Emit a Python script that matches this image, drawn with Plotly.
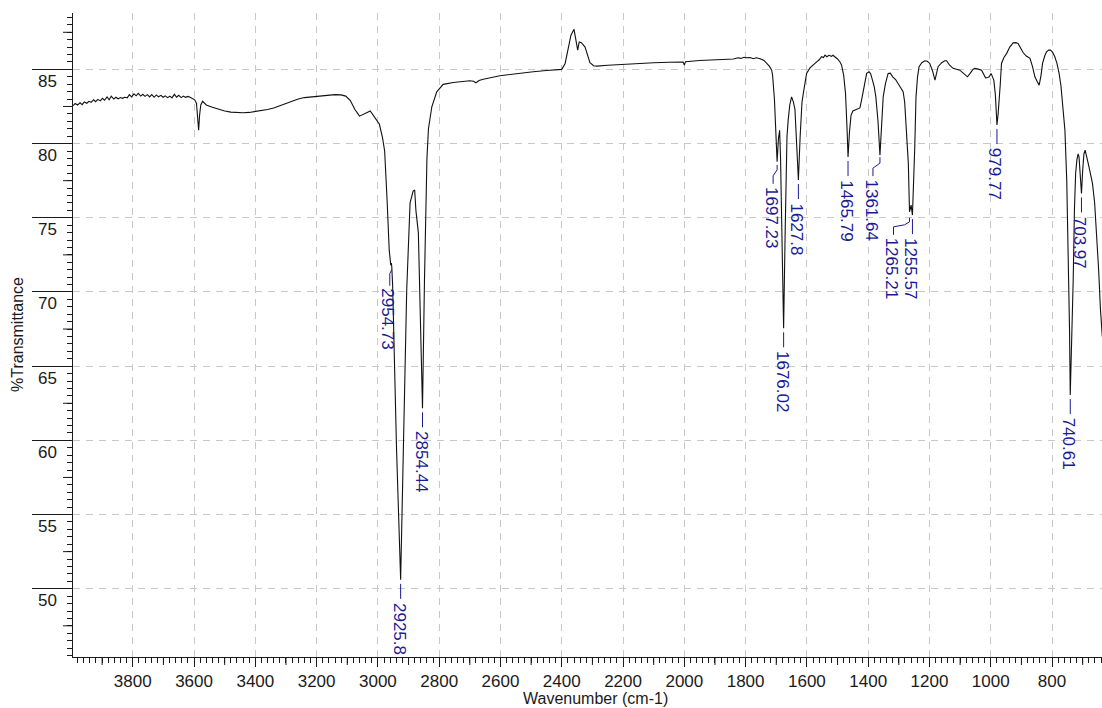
import numpy as np
import plotly.graph_objects as go

# ---------------- data ----------------
wavenumber = [
    3995, 3988, 3980, 3972, 3965, 3958, 3950, 3943, 3936, 3928, 3921, 3914, 3906, 3899, 3892,
    3884, 3877, 3870, 3862, 3855, 3848, 3840, 3833, 3826, 3818, 3811, 3804, 3796, 3789, 3782,
    3774, 3767, 3760, 3752, 3745, 3738, 3730, 3723, 3716, 3708, 3701, 3694, 3686, 3679, 3672,
    3664, 3657, 3650, 3642, 3635, 3628, 3620, 3613, 3605, 3598, 3592, 3588, 3585, 3582, 3578,
    3572, 3566, 3560, 3540, 3520, 3500, 3480, 3460, 3440, 3420, 3400, 3380, 3360, 3340, 3320,
    3300, 3280, 3260, 3240, 3220, 3200, 3180, 3160, 3140, 3120, 3105, 3090, 3075, 3060, 3048,
    3035, 3025, 3015, 3005, 2995, 2985, 2978, 2970, 2963, 2958, 2956, 2954.73, 2952, 2939, 2925.8,
    2917, 2906, 2895, 2885, 2880, 2876, 2868, 2854.44, 2848, 2840, 2835, 2824, 2808, 2787, 2754,
    2720, 2700, 2688, 2680, 2670, 2656, 2602, 2550, 2493, 2450, 2400, 2389, 2380, 2370, 2360,
    2354, 2348, 2343, 2336, 2324, 2316, 2308, 2296, 2286, 2250, 2200, 2150, 2100, 2050, 2010,
    2004, 2000, 1996, 1950, 1900, 1860, 1840, 1825, 1815, 1805, 1797, 1785, 1775, 1765, 1753,
    1740, 1731, 1722, 1715, 1712, 1706, 1701, 1697.23, 1693, 1689, 1686, 1680, 1676.02, 1671, 1665,
    1661, 1656, 1650, 1644, 1639, 1634, 1627.8, 1622, 1616, 1610, 1601, 1590, 1578, 1568, 1560,
    1552, 1546, 1541, 1535, 1528, 1520, 1515, 1509, 1500, 1492, 1487, 1480, 1474, 1469, 1465.79,
    1461, 1456, 1450, 1440, 1432, 1427, 1421, 1416, 1410, 1405, 1397, 1392, 1386, 1380, 1375,
    1368, 1361.64, 1356, 1351, 1344, 1335, 1328, 1320, 1310, 1302, 1294, 1286, 1281, 1277, 1272,
    1269, 1265.21, 1260, 1255.57, 1251, 1248, 1244, 1239, 1234, 1225, 1215, 1207, 1199, 1190, 1182,
    1177, 1172, 1160, 1150, 1144, 1135, 1123, 1112, 1101, 1090, 1076, 1065, 1058, 1052, 1045,
    1038, 1030, 1022, 1017, 1010, 1005, 999, 994, 990, 985, 982, 979.77, 976, 972, 969,
    965, 957, 948, 938, 927, 918, 911, 902, 894, 884, 872, 864, 856, 849, 842,
    836, 831, 824, 818, 811, 805, 798, 791, 784, 777, 771, 767, 762, 758, 752,
    747, 743, 740.61, 736, 731, 727, 723, 719, 715, 712, 708, 703.97, 700, 696, 692,
    687, 682, 675, 668, 661, 655, 648, 642, 636,
]
transmittance = [
    82.55, 82.70, 82.60, 82.75, 82.62, 82.80, 82.72, 82.85, 82.78, 82.95, 82.82, 82.98, 82.88, 83.05, 82.92,
    83.15, 82.95, 83.20, 83.00, 83.12, 83.02, 83.10, 83.05, 83.12, 83.08, 83.30, 83.15, 83.35, 83.22, 83.38,
    83.20, 83.32, 83.18, 83.30, 83.15, 83.30, 83.12, 83.28, 83.15, 83.25, 83.12, 83.22, 83.10, 83.20, 83.08,
    83.32, 83.12, 83.25, 83.10, 83.20, 83.12, 83.18, 83.12, 83.05, 82.95, 82.70, 81.80, 80.90, 81.90, 82.60,
    82.85, 82.75, 82.60, 82.45, 82.30, 82.20, 82.12, 82.08, 82.08, 82.10, 82.15, 82.22, 82.30, 82.40, 82.55,
    82.75, 82.90, 83.00, 83.10, 83.15, 83.20, 83.25, 83.28, 83.30, 83.28, 83.20, 82.90, 82.30, 81.85, 81.95,
    82.10, 82.20, 81.90, 81.60, 81.30, 80.40, 79.50, 76.20, 72.80, 71.80, 71.95, 71.70, 70.50, 59.30, 50.60,
    59.30, 70.10, 76.00, 76.80, 76.87, 75.50, 74.00, 62.16, 70.80, 79.00, 81.00, 82.48, 83.49, 83.99, 84.12,
    84.20, 84.23, 84.20, 84.10, 84.25, 84.33, 84.57, 84.72, 84.84, 84.92, 85.00, 85.40, 86.30, 87.30, 87.70,
    87.00, 86.30, 86.85, 86.80, 86.50, 86.00, 85.45, 85.25, 85.22, 85.28, 85.35, 85.40, 85.45, 85.48, 85.50,
    85.50, 85.30, 85.52, 85.60, 85.65, 85.72, 85.70, 85.78, 85.74, 85.82, 85.78, 85.80, 85.72, 85.78, 85.72,
    85.60, 85.40, 85.20, 84.95, 84.60, 83.00, 80.00, 78.77, 80.30, 80.90, 79.00, 72.00, 67.55, 74.00, 80.50,
    81.60, 82.60, 83.15, 82.80, 82.30, 80.50, 77.54, 80.50, 82.80, 83.60, 84.73, 85.10, 85.35, 85.51, 85.65,
    85.85, 85.80, 85.96, 85.85, 85.95, 85.88, 85.95, 85.85, 85.70, 85.50, 85.30, 84.60, 83.38, 81.00, 79.10,
    80.80, 81.90, 82.20, 82.30, 82.35, 82.40, 83.00, 83.60, 84.30, 84.73, 84.84, 84.70, 84.28, 83.80, 83.15,
    81.50, 79.22, 81.50, 83.15, 84.00, 84.73, 84.75, 84.50, 84.30, 84.06, 83.80, 83.49, 82.80, 81.58, 79.80,
    78.67, 75.40, 75.86, 75.18, 77.50, 79.78, 83.15, 84.50, 85.18, 85.45, 85.58, 85.55, 85.40, 84.90, 84.28,
    84.80, 85.18, 85.45, 85.58, 85.58, 85.30, 85.07, 85.00, 84.95, 84.75, 84.50, 84.80, 85.00, 85.07, 85.05,
    85.00, 84.95, 84.60, 84.43, 84.45, 84.50, 84.73, 84.50, 84.28, 83.30, 82.20, 81.25, 82.00, 83.00, 84.00,
    85.40, 85.80, 86.08, 86.50, 86.79, 86.80, 86.75, 86.45, 86.12, 85.90, 85.74, 85.20, 84.50, 84.20, 83.94,
    84.60, 85.40, 85.90, 86.19, 86.30, 86.30, 86.15, 85.85, 85.40, 84.73, 83.90, 82.93, 81.90, 80.90, 77.50,
    73.05, 67.50, 63.05, 66.50, 70.80, 75.50, 78.00, 78.90, 79.30, 79.10, 78.00, 76.64, 78.20, 79.30, 79.56,
    79.20, 78.67, 78.00, 77.30, 76.00, 74.17, 71.50, 68.80, 67.00,
]

peak_wavenumbers = [2954.73, 2925.8, 2854.44, 1697.23, 1676.02, 1627.8, 1465.79,
                    1361.64, 1265.21, 1255.57, 979.77, 740.61, 703.97]
peak_labels = ["2954.73", "2925.8", "2854.44", "1697.23", "1676.02", "1627.8", "1465.79",
               "1361.64", "1265.21", "1255.57", "979.77", "740.61", "703.97"]

x_tick_values = list(range(800, 3801, 200))
x_mid_tick_values = list(range(700, 3901, 200))
y_tick_values = [50, 55, 60, 65, 70, 75, 80, 85]
y_mid_tick_values = [47.5, 52.5, 57.5, 62.5, 67.5, 72.5, 77.5, 82.5, 87.5]

# ---------------- styling ----------------
FONT = "Liberation Sans, Arial, sans-serif"
LABEL_BLUE = "#1a1a96"
AXIS_COL = "#1a1a1a"
X_RANGE = [3995, 637]
Y_RANGE = [45.4, 88.8]

# leader geometry in pixels (relative to the peak point, positive = downward)
leader_style = {
    "2954.73": dict(path=[(0, 3), (-2, 7), (-2, 19)], top=21),
    "1697.23": dict(path=[(0, 3), (0, 8), (-4, 14), (-4, 22)], top=24),
    "1361.64": dict(path=[(0, 2), (0, 8), (-7, 13), (-7, 21)], top=23),
    "1265.21": dict(path=[(0, 6), (0, 10), (-5, 13), (-16, 15), (-16, 23)], top=25),
}
default_leader = dict(path=[(0, 4), (0, 19)], top=22)

wn_arr = np.array(wavenumber, dtype=float)
t_arr = np.array(transmittance, dtype=float)
order = np.argsort(wn_arr)
peak_T = np.interp(peak_wavenumbers, wn_arr[order], t_arr[order])

fig = go.Figure()
fig.add_trace(go.Scatter(
    x=wavenumber, y=transmittance, mode="lines",
    line=dict(color="#111111", width=1.1),
    hoverinfo="skip", showlegend=False,
))

shapes = []
annotations = []

for wn, t, lab in zip(peak_wavenumbers, peak_T, peak_labels):
    st = leader_style.get(lab, default_leader)
    pts = st["path"]
    path = "M" + " L".join(f"{dx},{-dy}" for dx, dy in pts)
    shapes.append(dict(
        type="path", xref="x", yref="y", xsizemode="pixel", ysizemode="pixel",
        xanchor=wn, yanchor=float(t), path=path,
        line=dict(color=LABEL_BLUE, width=1),
    ))
    end_dx = pts[-1][0]
    annotations.append(dict(
        x=wn, y=float(t), xref="x", yref="y", text=lab, showarrow=False,
        textangle=90, xanchor="center", yanchor="top",
        xshift=end_dx - 1.8, yshift=-st["top"], borderpad=0,
        font=dict(family=FONT, size=17, color=LABEL_BLUE),
    ))

# medium ticks on x axis (every odd hundred)
for v in x_mid_tick_values:
    if X_RANGE[1] <= v <= X_RANGE[0]:
        shapes.append(dict(
            type="line", xref="x", yref="paper", ysizemode="pixel", yanchor=0,
            x0=v, x1=v, y0=0, y1=-8, line=dict(color=AXIS_COL, width=1),
        ))
# medium ticks on y axis
for v in y_mid_tick_values:
    if Y_RANGE[0] <= v <= Y_RANGE[1]:
        shapes.append(dict(
            type="line", xref="paper", yref="y", xsizemode="pixel", xanchor=0,
            x0=0, x1=-10, y0=v, y1=v, line=dict(color=AXIS_COL, width=1),
        ))

# y tick labels (sit just below the long major ticks)
for v in y_tick_values:
    annotations.append(dict(
        x=0, xref="paper", y=v, yref="y", text=str(v), showarrow=False,
        xanchor="right", yanchor="middle", xshift=-14, yshift=-12,
        font=dict(family=FONT, size=17, color=AXIS_COL),
    ))

annotations.append(dict(
    x=0, xref="paper", y=0.5, yref="paper", text="%Transmittance", showarrow=False,
    textangle=-90, xanchor="center", yanchor="middle", xshift=-56,
    font=dict(family=FONT, size=16, color=AXIS_COL),
))
annotations.append(dict(
    x=0.5, xref="paper", y=0, yref="paper", text="Wavenumber (cm-1)", showarrow=False,
    xanchor="center", yanchor="middle", xshift=8, yshift=-41,
    font=dict(family=FONT, size=16, color=AXIS_COL),
))

fig.update_layout(
    width=1102, height=708,
    margin=dict(l=73, r=0, t=13, b=51),
    paper_bgcolor="white", plot_bgcolor="white",
    font=dict(family=FONT, color=AXIS_COL),
    showlegend=False,
    shapes=shapes,
    annotations=annotations,
    xaxis=dict(
        range=X_RANGE, tickmode="array", tickvals=x_tick_values,
        ticktext=[str(v) for v in x_tick_values],
        ticks="outside", ticklen=9, tickwidth=1, tickcolor=AXIS_COL,
        tickfont=dict(family=FONT, size=17, color=AXIS_COL),
        showline=True, linecolor=AXIS_COL, linewidth=1,
        showgrid=True, gridcolor="#c8c8c8", gridwidth=1, griddash="7px,6px",
        zeroline=False, mirror=False,
        minor=dict(dtick=20, tick0=0, ticks="outside", ticklen=5, tickcolor=AXIS_COL, showgrid=False),
    ),
    yaxis=dict(
        range=Y_RANGE, tickmode="array", tickvals=y_tick_values,
        ticks="outside", ticklen=40, tickwidth=1, tickcolor=AXIS_COL,
        showticklabels=False,
        showline=True, linecolor=AXIS_COL, linewidth=1,
        showgrid=True, gridcolor="#c8c8c8", gridwidth=1, griddash="7px,6px",
        zeroline=False,
        minor=dict(dtick=0.5, tick0=0, ticks="outside", ticklen=5, tickcolor=AXIS_COL, showgrid=False),
    ),
)

fig.write_html(
    "out.html",
    config={"displayModeBar": False},
    post_script="document.body.style.margin='0';document.body.style.overflow='hidden';",
)
